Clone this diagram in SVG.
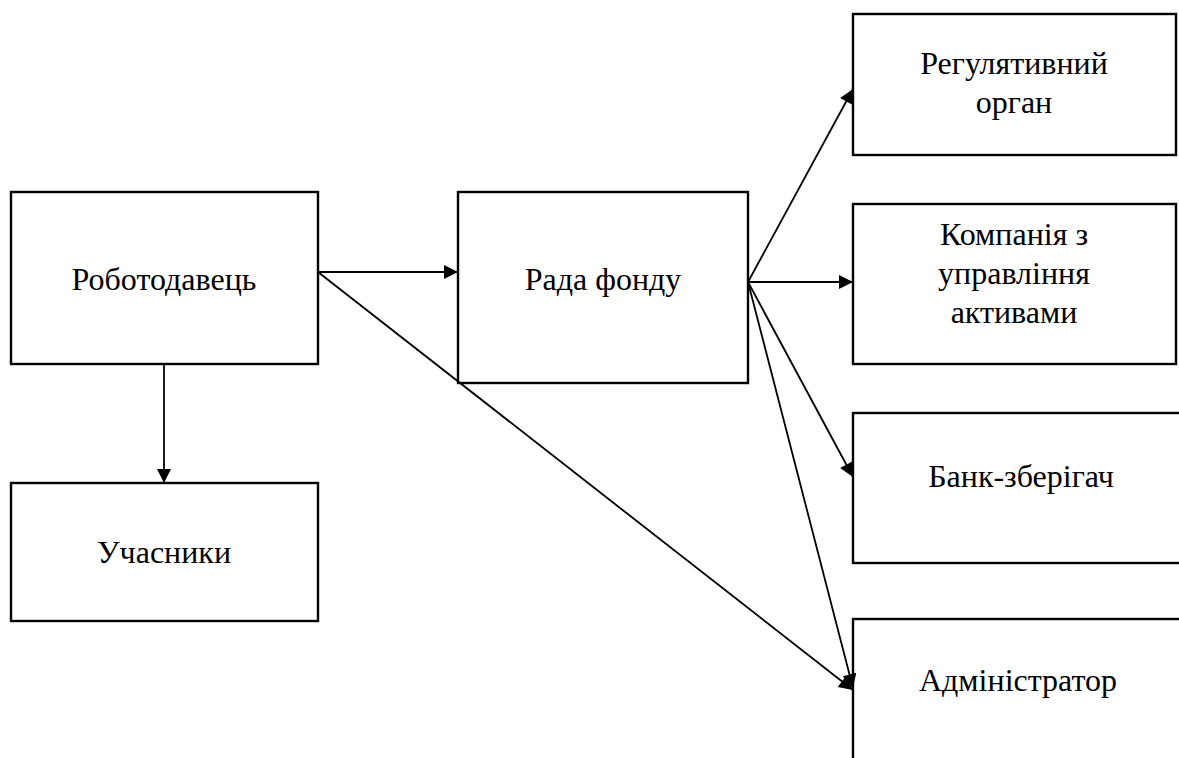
<svg xmlns="http://www.w3.org/2000/svg" width="1179" height="758" viewBox="0 0 1179 758">
<style>
.box{fill:#fff;stroke:#000;stroke-width:2.4}
.t{font-family:'Liberation Serif','Times New Roman',serif;font-size:32px;fill:#000;text-anchor:middle}
.c{stroke:#000;stroke-width:1.8;fill:none;marker-end:url(#ah)}
</style>
<defs>
<marker id="ah" viewBox="0 0 10 10" refX="10" refY="5" markerWidth="16" markerHeight="14" markerUnits="userSpaceOnUse" orient="auto">
<path d="M0,0 L10,5 L0,10 Z" fill="#000"/>
</marker>
</defs>
<rect width="1179" height="758" fill="#fff"/>
<g id="n-employer"><rect class="box" x="11" y="192" width="307" height="172"/><text class="t" x="164" y="290">Роботодавець</text></g>
<g id="n-participants"><rect class="box" x="11" y="483" width="307" height="138"/><text class="t" x="164" y="563">Учасники</text></g>
<g id="n-board"><rect class="box" x="458" y="192" width="290" height="191"/><text class="t" x="603" y="290">Рада фонду</text></g>
<g id="n-regulator"><rect class="box" x="853" y="14" width="323" height="141"/><text class="t" x="1014" y="74">Регулятивний</text><text class="t" x="1014" y="113">орган</text></g>
<g id="n-amc"><rect class="box" x="853" y="204" width="323" height="160"/><text class="t" x="1014" y="245">Компанія з</text><text class="t" x="1014" y="284">управління</text><text class="t" x="1014" y="323">активами</text></g>
<g id="n-bank"><rect class="box" x="853" y="413" width="340" height="150"/><text class="t" x="1021" y="487">Банк-зберігач</text></g>
<g id="n-admin"><rect class="box" x="853" y="619" width="340" height="160"/><text class="t" x="1018" y="691">Адміністратор</text></g>
<g id="connectors">
<line class="c" x1="318" y1="272" x2="458" y2="272"/>
<line class="c" x1="164" y1="364" x2="164" y2="483"/>
<line class="c" x1="318" y1="272" x2="853" y2="690"/>
<line class="c" x1="748" y1="282" x2="853" y2="89"/>
<line class="c" x1="748" y1="282" x2="853" y2="282"/>
<line class="c" x1="748" y1="282" x2="853" y2="477"/>
<line class="c" x1="748" y1="282" x2="853" y2="688"/>
</g>
</svg>
